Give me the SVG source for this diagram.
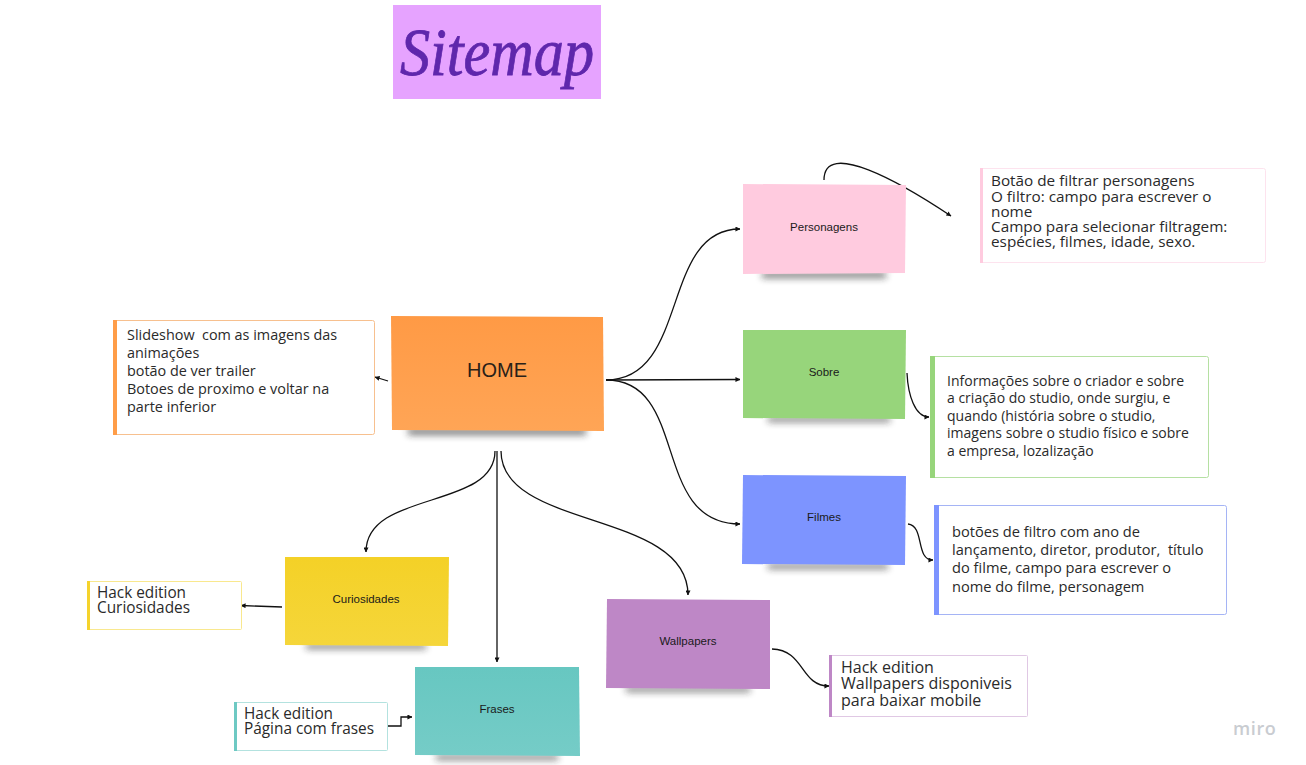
<svg xmlns="http://www.w3.org/2000/svg" width="1306" height="765" viewBox="0 0 1306 765">
<style>
.lbl{font-family:"Liberation Sans",Arial,sans-serif;font-size:11.500px;fill:#1a1a1a;text-anchor:middle}
.t{font-family:"Open Sans","Noto Sans",sans-serif;fill:#2a2a2a;white-space:pre}
.h{font-family:"Open Sans","Noto Sans",sans-serif;font-size:16px;fill:#2a2a2a}
.c{fill:none;stroke:#111;stroke-width:1.300;marker-end:url(#a)}
.shadow{fill:#222;opacity:.6;filter:url(#b)}
</style>
<defs>
<marker id="a" viewBox="0 0 6 6" refX="5.500" refY="3" markerWidth="5" markerHeight="5" markerUnits="userSpaceOnUse" orient="auto"><path d="M0 0L6 3L0 6z" fill="#111"/></marker>
<filter id="b" x="-20%" y="-300%" width="140%" height="700%"><feGaussianBlur stdDeviation="3.500"/></filter>
<linearGradient id="go" x1="0" y1="0" x2="0" y2="1"><stop offset="0" stop-color="#ff9a45"/><stop offset="1" stop-color="#ffa556"/></linearGradient>
<linearGradient id="gt" x1="0" y1="0" x2="0" y2="1"><stop offset="0" stop-color="#67c7c1"/><stop offset="1" stop-color="#75ccc7"/></linearGradient>
<linearGradient id="gy" x1="0" y1="0" x2="0" y2="1"><stop offset="0" stop-color="#f4d127"/><stop offset="1" stop-color="#f5d63a"/></linearGradient>
</defs>
<rect width="1306" height="765" fill="#fff"/>

<g id="title">
<rect x="393" y="5" width="208" height="94" fill="#e6a3ff"/>
<text x="497" y="75" text-anchor="middle" font-family="'Liberation Serif',serif" font-style="italic" font-size="68" fill="#5f27ac" stroke="#5f27ac" stroke-width=".8" textLength="194" lengthAdjust="spacingAndGlyphs">Sitemap</text>
</g>

<g id="connectors">
<path class="c" d="M606 380C690 380 660 229 740 229"/>
<path class="c" d="M606 380L740 379.500"/>
<path class="c" d="M606 380C690 380 650 524 740 524"/>
<path class="c" d="M388 381L375 377"/>
<path class="c" d="M495 451C495 510 366 490 366 552"/>
<path class="c" d="M497 451L497 662"/>
<path class="c" d="M501 451C501 530 688 510 688 595"/>
<path class="c" d="M824 180C824 139 900 182 951 216"/>
<path class="c" d="M907 373C908 395 915 417 929 417"/>
<path class="c" d="M908 524C925 526 915 560 933 560"/>
<path class="c" d="M282 607L241 605.500"/>
<path class="c" d="M388 726H401V717H412"/>
<path class="c" d="M772 649C805 650 800 686 829 686"/>
</g>

<g id="home">
<rect class="shadow" x="408" y="428" width="178" height="7"/>
<path d="M391 316L603 317L604 431L392 430z" fill="url(#go)"/>
<text x="497" y="377" font-family="'Liberation Sans',Arial,sans-serif" font-size="20" fill="#2a2118" text-anchor="middle">HOME</text>
</g>
<g id="personagens">
<rect class="shadow" x="762" y="272" width="124" height="6"/>
<path d="M743 184L906 185L905 273L743 274z" fill="#ffcbdf"/>
<text class="lbl" x="824" y="231">Personagens</text>
</g>
<g id="sobre">
<rect class="shadow" x="768" y="417" width="122" height="5"/>
<path d="M743 330L906 330L905 419L743 418z" fill="#97d57b"/>
<text class="lbl" x="824" y="376">Sobre</text>
</g>
<g id="filmes">
<rect class="shadow" x="768" y="564" width="120" height="5"/>
<path d="M743 475L906 476L905 565L742 564z" fill="#7d94ff"/>
<text class="lbl" x="824" y="521">Filmes</text>
</g>
<g id="curiosidades">
<rect class="shadow" x="306" y="644" width="120" height="5"/>
<path d="M285 557L449 557L448 646L285 645z" fill="url(#gy)"/>
<text class="lbl" x="366" y="603">Curiosidades</text>
</g>
<g id="frases">
<rect class="shadow" x="436" y="755" width="122" height="5"/>
<path d="M415 667L579 667L580 756L415 755z" fill="url(#gt)"/>
<text class="lbl" x="497" y="713">Frases</text>
</g>
<g id="wallpapers">
<rect class="shadow" x="626" y="687" width="124" height="5"/>
<path d="M607 599L770 600L770 689L606 688z" fill="#be87c6"/>
<text class="lbl" x="688" y="645">Wallpapers</text>
</g>

<g id="note-home">
<rect x="113.500" y="320.500" width="261" height="114" rx="2" fill="#fff" stroke="#f7c08f"/>
<rect x="113" y="320" width="4" height="115" fill="#ff9d48"/>
<text class="t" font-size="14.400"><tspan x="127" y="340">Slideshow  com as imagens das</tspan><tspan x="127" y="358">animações</tspan><tspan x="127" y="376">botão de ver trailer</tspan><tspan x="127" y="394">Botoes de proximo e voltar na</tspan><tspan x="127" y="412">parte inferior</tspan></text>
</g>
<g id="note-personagens">
<rect x="980.500" y="168.500" width="285" height="94" rx="2" fill="#fff" stroke="#fde3ee"/>
<rect x="980" y="168" width="3" height="95" fill="#ffcbdf"/>
<text class="t" font-size="15.300"><tspan x="991" y="186">Botão de filtrar personagens</tspan><tspan x="991" y="201.500">O filtro: campo para escrever o</tspan><tspan x="991" y="217">nome</tspan><tspan x="991" y="232">Campo para selecionar filtragem:</tspan><tspan x="991" y="247">espécies, filmes, idade, sexo.</tspan></text>
</g>
<g id="note-sobre">
<rect x="930.500" y="356.500" width="278" height="121" rx="2" fill="#fff" stroke="#b5e0a2"/>
<rect x="930" y="356" width="5" height="122" fill="#97d57b"/>
<text class="t" font-size="14"><tspan x="947" y="386">Informações sobre o criador e sobre</tspan><tspan x="947" y="403">a criação do studio, onde surgiu, e</tspan><tspan x="947" y="421">quando (história sobre o studio,</tspan><tspan x="947" y="438">imagens sobre o studio físico e sobre</tspan><tspan x="947" y="456">a empresa, lozalização</tspan></text>
</g>
<g id="note-filmes">
<rect x="934.500" y="505.500" width="292" height="109" rx="2" fill="#fff" stroke="#a5b4f5"/>
<rect x="934" y="505" width="5" height="110" fill="#7d94ff"/>
<text class="t" font-size="14.650"><tspan x="952" y="537">botões de filtro com ano de</tspan><tspan x="952" y="555">lançamento, diretor, produtor,  título</tspan><tspan x="952" y="573">do filme, campo para escrever o</tspan><tspan x="952" y="592">nome do filme, personagem</tspan></text>
</g>
<g id="note-curiosidades">
<rect x="87.500" y="581.500" width="154" height="48" rx="1" fill="#fff" stroke="#f9e88e"/>
<rect x="87" y="581" width="3" height="49" fill="#f5d32c"/>
<text class="h" x="97" y="598" textLength="89" lengthAdjust="spacingAndGlyphs">Hack edition</text>
<text class="h" x="97" y="613" textLength="93" lengthAdjust="spacingAndGlyphs">Curiosidades</text>
</g>
<g id="note-frases">
<rect x="234.500" y="702.500" width="153" height="48" rx="1" fill="#fff" stroke="#b3e2df"/>
<rect x="234" y="702" width="3" height="49" fill="#6ec9c3"/>
<text class="h" x="244" y="719" textLength="89" lengthAdjust="spacingAndGlyphs">Hack edition</text>
<text class="h" x="244" y="734" textLength="130" lengthAdjust="spacingAndGlyphs">Página com frases</text>
</g>
<g id="note-wallpapers">
<rect x="829.500" y="655.500" width="198" height="61" rx="1" fill="#fff" stroke="#e0c8e4"/>
<rect x="829" y="655" width="3" height="62" fill="#be87c6"/>
<text class="h"><tspan x="841" y="673">Hack edition</tspan><tspan x="841" y="689">Wallpapers disponiveis</tspan><tspan x="841" y="706">para baixar mobile</tspan></text>
</g>
<text id="miro" x="1233" y="735" font-family="'Open Sans',sans-serif" font-size="18" font-weight="600" letter-spacing=".6" fill="#c9ccd1">miro</text>
</svg>
